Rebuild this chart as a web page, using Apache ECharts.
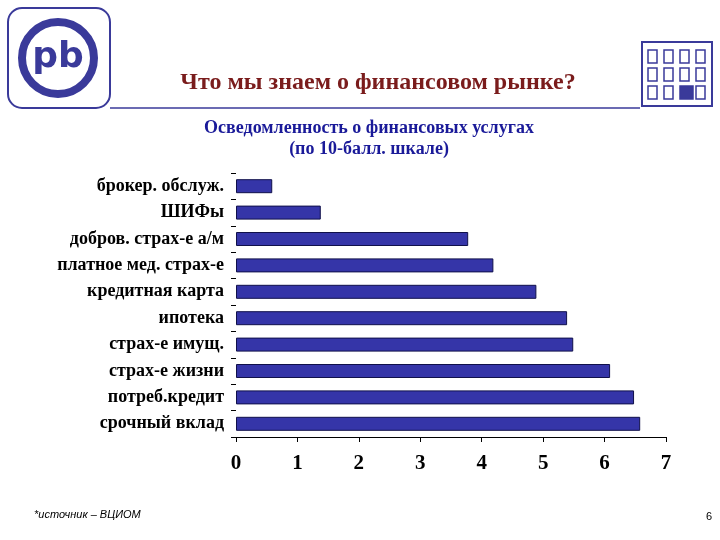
<!DOCTYPE html>
<html><head><meta charset="utf-8">
<script src="https://cdn.jsdelivr.net/npm/echarts@6/dist/echarts.min.js"></script>
<style>html,body{margin:0;background:#fff}#c{width:720px;height:540px}</style>
</head><body><div id="c"></div>
<script>
const categories = ['брокер. обслуж.','ШИФы','добров. страх-е а/м','платное мед. страх-е','кредитная карта','ипотека','страх-е имущ.','страх-е жизни','потреб.кредит','срочный вклад'];
const values = [0.59,1.38,3.78,4.19,4.89,5.39,5.49,6.09,6.48,6.58];
const xTicks = [0,1,2,3,4,5,6,7];

const chart = echarts.init(document.getElementById('c'));
const serif = 'Liberation Serif';
const building = [];
for (let r=0;r<3;r++) for (let c=0;c<4;c++) {
  const dark = (r===2 && c===2);
  building.push({type:'rect',shape:{x:648+c*16,y:50+r*18,width:dark?13:9,height:13},style:{fill:dark?'#3a3a9a':'#fff',stroke:'#3a3a9a',lineWidth:1.5}});
}
chart.setOption({
  animation:false,
  title:[
    {text:'Что мы знаем о финансовом рынке?',left:373,top:66,textAlign:'center',textStyle:{fontFamily:serif,fontSize:24,fontWeight:'bold',color:'#7a1c1c'}},
    {text:'Осведомленность о финансовых услугах\n(по 10-балл. шкале)',left:364,top:113,textAlign:'center',textStyle:{fontFamily:serif,fontSize:18,fontWeight:'bold',color:'#1a1a99',lineHeight:21}}
  ],
  grid:{left:236,right:54,top:173,bottom:103},
  xAxis:{type:'value',min:0,max:7,interval:1,
    axisLine:{show:true,lineStyle:{color:'#000'}},axisTick:{show:true,length:5,lineStyle:{color:'#000'}},
    splitLine:{show:false},
    axisLabel:{fontFamily:serif,fontSize:21,fontWeight:'bold',color:'#000',margin:16,formatter:v=>xTicks.includes(v)?String(v):''}},
  yAxis:{type:'category',data:categories,inverse:true,
    axisLine:{show:false},axisTick:{show:true,length:5,lineStyle:{color:'#000'}},
    axisLabel:{fontFamily:serif,fontSize:18,fontWeight:'bold',color:'#000',margin:12}},
  series:[{type:'bar',data:values,barWidth:14,itemStyle:{color:'#3535a8',borderColor:'#10104a',borderWidth:1}}],
  graphic:[
    {type:'rect',shape:{x:8,y:8,width:102,height:100,r:14},style:{fill:'none',stroke:'#3a3a9a',lineWidth:2}},
    {type:'circle',shape:{cx:58,cy:58,r:36},style:{fill:'none',stroke:'#3a3a9a',lineWidth:8}},
    {type:'text',style:{x:58,y:58,text:'pb',align:'center',verticalAlign:'middle',font:'bold 36px "DejaVu Sans"',fill:'#3a3a9a'}},
    {type:'line',shape:{x1:110,y1:108,x2:640,y2:108},style:{stroke:'#3a3a9a',lineWidth:1.5}},
    {type:'rect',shape:{x:642,y:42,width:70,height:64},style:{fill:'#fff',stroke:'#3a3a9a',lineWidth:2}},
    ...building,
    {type:'text',style:{x:34,y:515,text:'*источник – ВЦИОМ',verticalAlign:'middle',font:'italic 11px "Liberation Sans"',fill:'#000'}},
    {type:'text',style:{x:712,y:517,text:'6',align:'right',verticalAlign:'middle',font:'11px "Liberation Sans"',fill:'#000'}}
  ]
});
</script></body></html>
